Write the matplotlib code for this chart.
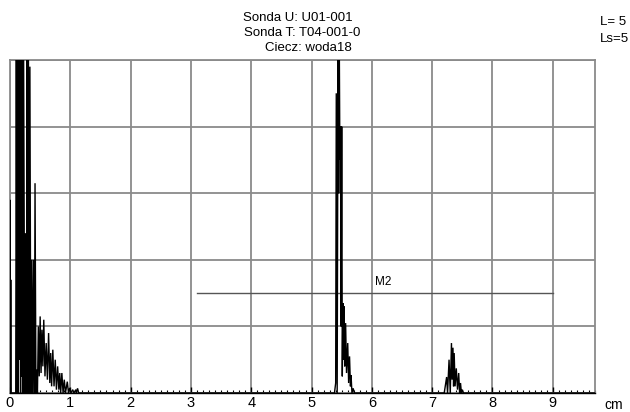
import matplotlib
matplotlib.use("Agg")
import matplotlib.pyplot as plt
from matplotlib.ticker import MultipleLocator, FixedLocator
import numpy as np

# ---- data (x in cm, amplitude in % of screen height) ----
echo1_x = [0.000, 0.005, 0.012, 0.020, 0.095, 0.105, 0.115, 0.125, 0.135, 0.145,
           0.155, 0.165, 0.175, 0.185, 0.195, 0.205, 0.215, 0.225, 0.245, 0.255,
           0.275, 0.285, 0.295, 0.305, 0.320, 0.330, 0.345, 0.360, 0.375, 0.390,
           0.405, 0.415, 0.430, 0.440, 0.455, 0.470, 0.485, 0.500, 0.515, 0.530,
           0.545, 0.560, 0.580, 0.600, 0.620, 0.640, 0.660, 0.675, 0.690, 0.710,
           0.730, 0.750, 0.770, 0.790, 0.810, 0.825, 0.840, 0.860, 0.880, 0.900,
           0.920, 0.950, 0.970, 0.990, 1.010, 1.040, 1.060, 1.090, 1.100, 1.120,
           1.140]
echo1_y = [58, 0, 34, 0, 0, 105, 0, 105, 0, 105,
           10, 105, 0, 105, 5, 105, 0, 105, 0, 48,
           0, 105, 0, 105, 0, 98, 0, 40, 0, 40,
           0, 63, 0, 7, 0, 20, 5, 23, 6, 19,
           8, 22, 5, 15, 4, 18, 3, 12, 2, 13,
           2, 10, 1, 8, 1, 6, 0, 6, 0, 4,
           0, 3.4, 0, 1.5, 0, 1, 0, 1, 0, 1.4,
           0]

echo2_x = [5.380, 5.400, 5.410, 5.425, 5.440, 5.450, 5.460, 5.470, 5.480, 5.490,
           5.500, 5.505, 5.510, 5.520, 5.530, 5.540, 5.550, 5.565, 5.580, 5.600,
           5.615, 5.630, 5.645, 5.655, 5.670, 5.690, 5.710]
echo2_y = [0, 3, 90, 0, 105, 60, 105, 70, 80, 20,
           80, 49, 5, 27, 10, 26, 8, 21, 6, 15,
           3, 11, 2, 5.4, 0, 1.4, 0]

echo3_x = [7.200, 7.240, 7.255, 7.280, 7.300, 7.320, 7.330, 7.345, 7.355, 7.365,
           7.380, 7.400, 7.420, 7.440, 7.455, 7.470, 7.485, 7.500, 7.520]
echo3_y = [0, 4.8, 0, 10, 0, 15, 4, 13.6, 2, 12,
           2, 7.4, 1, 6, 0, 3, 0, 1, 0]

x_ticks = [0, 1, 2, 3, 4, 5, 6, 7, 8, 9]
x_tick_labels = ["0", "1", "2", "3", "4", "5", "6", "7", "8", "9"]

m2_x = [3.1, 9.0]
m2_y = [30, 30]
m2_label = "M2"

title_lines = ["Sonda U: U01-001", "Sonda T: T04-001-0", "Ciecz: woda18"]
side_lines = ["L= 5", "Ls=5"]

# ---- figure ----
W, H = 630, 412
fig = plt.figure(figsize=(W / 100, H / 100), dpi=100)
fig.patch.set_facecolor("white")

L, R, T, B = 10, 595, 60, 393
ax = fig.add_axes([L / W, 1 - B / H, (R - L) / W, (B - T) / H])

xs = [0.0] + echo1_x + [1.2] + echo2_x + echo3_x + [9.7]
ys = [0.0] + echo1_y + [0.0] + echo2_y + echo3_y + [0.0]
ax.plot(xs, ys, color="black", lw=1.0, solid_joinstyle="miter", zorder=3, clip_on=True)

ax.set_xlim(0, 9.7)
ax.set_ylim(0, 100)

gridc = "#8a8a8a"
ax.xaxis.set_major_locator(FixedLocator(x_ticks))
ax.set_xticklabels(x_tick_labels)
ax.xaxis.set_minor_locator(MultipleLocator(0.1))
ax.yaxis.set_major_locator(MultipleLocator(20))
ax.set_yticklabels([])
ax.tick_params(axis="y", length=0)
ax.tick_params(axis="x", which="major", direction="in", length=4, width=1,
               color="black", pad=2.5, labelsize=10.5)
ax.tick_params(axis="x", which="minor", direction="in", length=2.5, width=0.8,
               color="black")
for lab in ax.get_xticklabels():
    lab.set_family(["Liberation Sans", "DejaVu Sans"])
ax.grid(True, which="major", color=gridc, lw=1.3, zorder=1)

for s in ["top", "left", "right"]:
    ax.spines[s].set_color(gridc)
    ax.spines[s].set_linewidth(1.3)
ax.spines["bottom"].set_color("black")
ax.spines["bottom"].set_linewidth(1.0)

# M2 gate line
ax.plot(m2_x, m2_y, color="#555555", lw=1.0, zorder=2)
ax.text(6.06, 31.5, m2_label, fontsize=8.5, family=["Liberation Sans", "DejaVu Sans"],
        ha="left", va="bottom", color="black")

# unit label
fig.text(604 / W, 1 - 405 / H, "cm", fontsize=10, family=["Liberation Sans", "DejaVu Sans"],
         ha="left", va="center")

# header texts
narrow = ["Liberation Sans Narrow", "Liberation Sans", "DejaVu Sans"]
title_cx = [298, 302, 308]
title_cy = [18, 33, 48]
for txt, cx, cy in zip(title_lines, title_cx, title_cy):
    fig.text(cx / W, 1 - cy / H, txt, fontsize=9.5, family=narrow,
             ha="center", va="center")
side_cy = [22, 39]
for txt, cy in zip(side_lines, side_cy):
    fig.text(600 / W, 1 - cy / H, txt, fontsize=9.5, family=narrow,
             ha="left", va="center")

fig.savefig("out.png", dpi=100, facecolor="white")
